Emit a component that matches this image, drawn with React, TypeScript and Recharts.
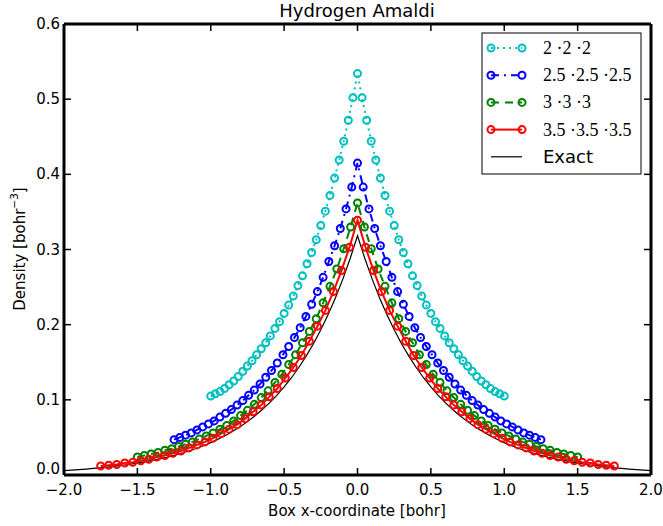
import { LineChart, Line, XAxis, YAxis } from "recharts";

// box edge lengths (bohr) of the four runs, each sampled on 65 grid points
const boxSizes = [2, 2.5, 3, 3.5];
const gridPoints = 65;

const xTicks = [-2, -1.5, -1, -0.5, 0, 0.5, 1, 1.5, 2];
const yTicks = [0, 0.1, 0.2, 0.3, 0.4, 0.5, 0.6];

const density2 = [
  0.105, 0.108, 0.111, 0.115, 0.12, 0.125, 0.131, 0.138, 0.145, 0.152, 0.16, 0.168, 0.176, 0.185, 0.195, 0.204,
  0.215, 0.226, 0.238, 0.252, 0.265, 0.281, 0.296, 0.313, 0.332, 0.351, 0.372, 0.395, 0.419, 0.444, 0.472, 0.502,
  0.534,
  0.502, 0.472, 0.444, 0.419, 0.395, 0.372, 0.351, 0.332, 0.313, 0.296, 0.281, 0.265, 0.252, 0.238, 0.226, 0.215,
  0.204, 0.195, 0.185, 0.176, 0.168, 0.16, 0.152, 0.145, 0.138, 0.131, 0.125, 0.12, 0.115, 0.111, 0.108, 0.105,
];

const density25 = [
  0.047, 0.05, 0.053, 0.056, 0.06, 0.064, 0.068, 0.072, 0.077, 0.082, 0.087, 0.093, 0.099, 0.106, 0.113, 0.121,
  0.13, 0.139, 0.149, 0.16, 0.171, 0.183, 0.196, 0.211, 0.227, 0.244, 0.263, 0.284, 0.305, 0.328, 0.354, 0.383,
  0.415,
  0.383, 0.354, 0.328, 0.305, 0.284, 0.263, 0.244, 0.227, 0.211, 0.196, 0.183, 0.171, 0.16, 0.149, 0.139, 0.13,
  0.121, 0.113, 0.106, 0.099, 0.093, 0.087, 0.082, 0.077, 0.072, 0.068, 0.064, 0.06, 0.056, 0.053, 0.05, 0.047,
];

const density3 = [
  0.024, 0.026, 0.028, 0.03, 0.033, 0.035, 0.038, 0.041, 0.044, 0.048, 0.052, 0.056, 0.061, 0.066, 0.072, 0.079,
  0.086, 0.094, 0.103, 0.112, 0.123, 0.134, 0.147, 0.16, 0.176, 0.191, 0.208, 0.229, 0.251, 0.274, 0.301, 0.33,
  0.362,
  0.33, 0.301, 0.274, 0.251, 0.229, 0.208, 0.191, 0.176, 0.16, 0.147, 0.134, 0.123, 0.112, 0.103, 0.094, 0.086,
  0.079, 0.072, 0.066, 0.061, 0.056, 0.052, 0.048, 0.044, 0.041, 0.038, 0.035, 0.033, 0.03, 0.028, 0.026, 0.024,
];

const density35 = [
  0.012, 0.013, 0.014, 0.016, 0.017, 0.019, 0.021, 0.024, 0.026, 0.029, 0.032, 0.036, 0.04, 0.044, 0.049, 0.055,
  0.061, 0.067, 0.075, 0.084, 0.093, 0.104, 0.115, 0.129, 0.143, 0.159, 0.178, 0.198, 0.219, 0.244, 0.272, 0.303,
  0.339,
  0.303, 0.272, 0.244, 0.219, 0.198, 0.178, 0.159, 0.143, 0.129, 0.115, 0.104, 0.093, 0.084, 0.075, 0.067, 0.061,
  0.055, 0.049, 0.044, 0.04, 0.036, 0.032, 0.029, 0.026, 0.024, 0.021, 0.019, 0.017, 0.016, 0.014, 0.013, 0.012,
];

// exact curve, sampled every 0.05 bohr from -2 to 2
const exactStep = 0.05;
const exactDensity = [
  0.0058, 0.0064, 0.0071, 0.0079, 0.0087, 0.0096, 0.0106, 0.0117, 0.013, 0.0143, 0.0158, 0.0175, 0.0194, 0.0214,
  0.0236, 0.0261, 0.0289, 0.0319, 0.0353, 0.039, 0.0431, 0.0476, 0.0526, 0.0582, 0.0643, 0.071, 0.0785, 0.0868,
  0.0959, 0.106, 0.1171, 0.1294, 0.143, 0.1581, 0.1747, 0.1931, 0.2134, 0.2358, 0.2606, 0.288,
  0.3183,
  0.288, 0.2606, 0.2358, 0.2134, 0.1931, 0.1747, 0.1581, 0.143, 0.1294, 0.1171, 0.106, 0.0959, 0.0868, 0.0785,
  0.071, 0.0643, 0.0582, 0.0526, 0.0476, 0.0431, 0.039, 0.0353, 0.0319, 0.0289, 0.0261, 0.0236, 0.0214, 0.0194,
  0.0175, 0.0158, 0.0143, 0.013, 0.0117, 0.0106, 0.0096, 0.0087, 0.0079, 0.0071, 0.0064, 0.0058,
];

const CYAN = "#00bfbf";
const BLUE = "#0000ff";
const GREEN = "#008000";
const RED = "#ff0000";

const gridX = (len: number, n: number) =>
  Array.from({ length: n }, (_, i) => -len / 2 + (i * len) / (n - 1));

const toRows = (xs: number[], ys: number[]) => ys.map((y, i) => ({ x: xs[i], y }));

const series = [
  { size: boxSizes[0], values: density2, color: CYAN, dash: "2 4" },
  { size: boxSizes[1], values: density25, color: BLUE, dash: "8 5 2 5" },
  { size: boxSizes[2], values: density3, color: GREEN, dash: "8 6" },
  { size: boxSizes[3], values: density35, color: RED, dash: undefined },
].map((s) => ({ ...s, data: toRows(gridX(s.size, gridPoints), s.values) }));

const exactData = exactDensity.map((y, i) => ({ x: -2 + i * exactStep, y }));

const fmt = (v: number) => v.toFixed(1).replace("-", "\u2212");
const SANS = "'DejaVu Sans', sans-serif";
const SERIF = "'Liberation Serif', 'DejaVu Serif', serif";
const TICK_LEN = 7;
const MARKER_R = 3.5;

const BottomTick = ({ x, y, payload }: any) => (
  <g>
    <line x1={x} x2={x} y1={y} y2={y - TICK_LEN} stroke="#000" strokeWidth={1.5} />
    <text x={x} y={y + 15} textAnchor="middle" dominantBaseline="central" fontSize={15} fontFamily={SANS} fill="#000">
      {fmt(payload.value)}
    </text>
  </g>
);

const TopTick = ({ x, y }: any) => (
  <line x1={x} x2={x} y1={y} y2={y + TICK_LEN} stroke="#000" strokeWidth={1.5} />
);

const LeftTick = ({ x, y, payload }: any) => (
  <g>
    <line x1={x} x2={x + TICK_LEN} y1={y} y2={y} stroke="#000" strokeWidth={1.5} />
    <text
      x={x - 4}
      y={payload.value === 0 ? y - 6 : y}
      textAnchor="end"
      dominantBaseline="central"
      fontSize={15}
      fontFamily={SANS}
      fill="#000"
    >
      {fmt(payload.value)}
    </text>
  </g>
);

const RightTick = ({ x, y }: any) => (
  <line x1={x} x2={x - TICK_LEN} y1={y} y2={y} stroke="#000" strokeWidth={1.5} />
);

// hollow circle marker, drawn without the line's dash pattern
const ringDot = (color: string) => (props: any) => {
  const { cx, cy, index } = props;
  if (cx == null || cy == null) return <g key={index} />;
  return <circle key={index} cx={cx} cy={cy} r={MARKER_R} fill="none" stroke={color} strokeWidth={2} />;
};

const spine = { stroke: "#000", strokeWidth: 3 };

function LegendBox() {
  const rowY = (i: number) => 48 + i * 27.2;
  return (
    <g>
      <rect x={482} y={33} width={159} height={141} fill="#fff" stroke="#000" strokeWidth={1} />
      {series.map((s, i) => (
        <g key={s.size}>
          <line x1={491} x2={522} y1={rowY(i)} y2={rowY(i)} stroke={s.color} strokeWidth={2} strokeDasharray={s.dash} />
          <circle cx={491} cy={rowY(i)} r={MARKER_R} fill="none" stroke={s.color} strokeWidth={2} />
          <circle cx={522} cy={rowY(i)} r={MARKER_R} fill="none" stroke={s.color} strokeWidth={2} />
          <text x={543} y={rowY(i)} dominantBaseline="central" fontSize={18} fontFamily={SERIF} fill="#000">
            {`${s.size} \u00b7${s.size} \u00b7${s.size}`}
          </text>
        </g>
      ))}
      <line x1={491} x2={522} y1={rowY(4)} y2={rowY(4)} stroke="#000" strokeWidth={1.2} />
      <text x={543} y={rowY(4)} dominantBaseline="central" fontSize={18} fontFamily={SANS} fill="#000">
        Exact
      </text>
    </g>
  );
}

export default function App() {
  return (
    <div style={{ position: "absolute", left: 0, top: 0, width: 663, height: 526, background: "#fff" }}>
      <LineChart width={663} height={526} margin={{ top: 23, right: 11, bottom: 50, left: 63 }}>
        <XAxis
          xAxisId="bottom"
          type="number"
          dataKey="x"
          domain={[-2, 2]}
          ticks={xTicks}
          interval={0}
          allowDataOverflow
          height={1}
          tickSize={0}
          tickMargin={0}
          tickLine={false}
          axisLine={spine}
          tick={<BottomTick />}
        />
        <XAxis
          xAxisId="top"
          orientation="top"
          type="number"
          dataKey="x"
          domain={[-2, 2]}
          ticks={xTicks}
          interval={0}
          allowDataOverflow
          height={1}
          tickSize={0}
          tickMargin={0}
          tickLine={false}
          axisLine={spine}
          tick={<TopTick />}
        />
        <YAxis
          yAxisId="left"
          type="number"
          domain={[0, 0.6]}
          ticks={yTicks}
          interval={0}
          allowDataOverflow
          width={1}
          tickSize={0}
          tickMargin={0}
          tickLine={false}
          axisLine={spine}
          tick={<LeftTick />}
        />
        <YAxis
          yAxisId="right"
          orientation="right"
          type="number"
          domain={[0, 0.6]}
          ticks={yTicks}
          interval={0}
          allowDataOverflow
          width={1}
          tickSize={0}
          tickMargin={0}
          tickLine={false}
          axisLine={spine}
          tick={<RightTick />}
        />
        {series.map((s) => (
          <Line
            key={s.size}
            xAxisId="bottom"
            yAxisId="left"
            data={s.data}
            dataKey="y"
            type="linear"
            stroke={s.color}
            strokeWidth={2}
            strokeDasharray={s.dash}
            dot={ringDot(s.color)}
            activeDot={false}
            isAnimationActive={false}
          />
        ))}
        <Line
          xAxisId="bottom"
          yAxisId="left"
          data={exactData}
          dataKey="y"
          type="linear"
          stroke="#000"
          strokeWidth={1.2}
          dot={false}
          activeDot={false}
          isAnimationActive={false}
        />
      </LineChart>
      <svg width={663} height={526} style={{ position: "absolute", left: 0, top: 0, pointerEvents: "none" }}>
        <text x={357} y={17} textAnchor="middle" fontSize={18} fontFamily={SANS} fill="#000">
          Hydrogen Amaldi
        </text>
        <text x={357} y={511} textAnchor="middle" dominantBaseline="central" fontSize={15} fontFamily={SANS} fill="#000">
          Box x-coordinate [bohr]
        </text>
        <text
          transform="translate(20,249) rotate(-90)"
          textAnchor="middle"
          dominantBaseline="central"
          fontSize={15}
          fontFamily={SANS}
          fill="#000"
        >
          Density [bohr
          <tspan dy={-6} fontSize={10.5}>
            {"\u22123"}
          </tspan>
          <tspan dy={6}>]</tspan>
        </text>
        <LegendBox />
      </svg>
    </div>
  );
}
